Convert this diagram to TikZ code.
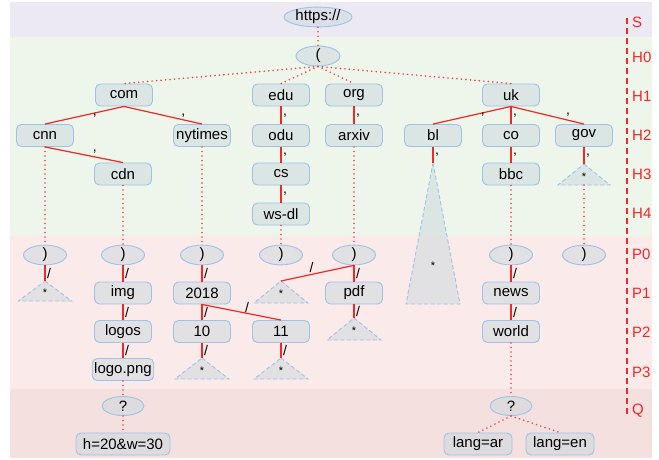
\documentclass[tikz,border=0pt]{standalone}
\usepackage{fontspec}
\setmainfont{Liberation Sans}
\usetikzlibrary{shapes,shapes.geometric,calc,positioning,backgrounds}

\definecolor{bandS}{HTML}{EDE9F3}
\definecolor{bandH}{HTML}{EEF5EA}
\definecolor{bandP}{HTML}{FBEAEA}
\definecolor{bandQ}{HTML}{F4E1DF}
\definecolor{segline}{HTML}{9DC3E6}
\definecolor{segfill}{HTML}{C9D7DE}
\definecolor{linkred}{HTML}{F02828}
\definecolor{dotred}{HTML}{F04848}

\tikzset{
  seg/.style={rectangle, rounded corners=5pt, draw=segline, line width=0.9pt, fill=segfill, fill opacity=0.5, text opacity=1, minimum width=57pt, minimum height=22pt, inner sep=2pt, font=\fontsize{15}{17}\selectfont},
  sep/.style={ellipse, draw=segline, line width=0.9pt, fill=segfill, fill opacity=0.5, text opacity=1, minimum width=43pt, minimum height=19pt, inner sep=0pt, font=\fontsize{15}{17}\selectfont},
  rest/.style={draw=segline, line width=0.9pt, dash pattern=on 4pt off 2.5pt, fill=segfill, fill opacity=0.5},
  star/.style={font=\fontsize{11}{12}\selectfont, inner sep=0pt},
  link/.style={draw=linkred, line width=1.2pt},
  hop/.style={draw=dotred, line width=1.8pt, line cap=round, dash pattern=on 0pt off 4.5pt},
  lab/.style={font=\fontsize{14}{16}\selectfont, inner sep=1.5pt},
  level/.style={text=linkred, font=\fontsize{15}{17}\selectfont, anchor=west, inner sep=0pt}
}

\begin{document}
\begin{tikzpicture}[x=1pt,y=-1pt]

    \useasboundingbox (0,0) rectangle (659,459);

    % Bands
    \begin{scope}[on background layer]
      \fill[bandS] (10,2) rectangle (652,37);
      \fill[bandH] (10,37) rectangle (652,236);
      \fill[bandP] (10,236) rectangle (652,389);
      \fill[bandQ] (10,389) rectangle (652,458);
    \end{scope}

    % Scheme and host
    \node[sep, minimum width=68pt] (https) at (318,17) {https://};
    \node[sep, minimum width=44pt, minimum height=20pt] (paren) at (318,56) {(};

    \node[seg] (com) at (124,95) {com};
    \node[seg] (edu) at (281,95) {edu};
    \node[seg] (org) at (354,95) {org};
    \node[seg] (uk) at (511,95) {uk};

    \node[seg] (cnn) at (45,135.5) {cnn};
    \node[seg] (nytimes) at (202,135.5) {nytimes};
    \node[seg] (odu) at (281,135.5) {odu};
    \node[seg] (arxiv) at (354,135.5) {arxiv};
    \node[seg] (bl) at (433,135.5) {bl};
    \node[seg] (co) at (511,135.5) {co};
    \node[seg] (gov) at (584,135.5) {gov};

    \node[seg] (cdn) at (123,174) {cdn};
    \node[seg] (cs) at (281,174) {cs};
    \node[seg] (bbc) at (511,174) {bbc};

    \node[seg] (wsdl) at (281,214) {ws-dl};

    % Path
    \foreach \i/\x in {1/45,2/123,3/202,4/281,5/354,6/511,7/584}
      \node[sep] (par\i) at (\x,255) {)};

    \node[seg] (img) at (123,293) {img};
    \node[seg] (y2018) at (202,293) {2018};
    \node[seg] (pdf) at (354,293) {pdf};
    \node[seg] (news) at (511,293) {news};

    \node[seg] (logos) at (123,331.5) {logos};
    \node[seg] (m10) at (202,331.5) {10};
    \node[seg] (m11) at (281,331.5) {11};
    \node[seg] (world) at (511,331.5) {world};

    \node[seg, minimum width=61pt] (logopng) at (123,369.5) {logo.png};

    % Query
    \node[sep, minimum width=42pt] (q1) at (123,406) {?};
    \node[sep, minimum width=42pt] (q2) at (511,406) {?};

    \node[seg, minimum width=94pt] (hw) at (123,444) {h=20\&w=30};
    \node[seg, minimum width=68pt] (langar) at (478,444) {lang=ar};
    \node[seg, minimum width=68pt] (langen) at (560,444) {lang=en};

    % Wildcard triangles
    \foreach \n/\x/\y/\h/\w/\f in {t1/45/281/20/26.5/0.6, t4/281/281/22/27/0.6, tpdf/354/318/22/27/0.6, t10/202/358/21/27/0.6, t11/281/358/21/27/0.6, tgov/584/164/21/26/0.6, tbl/433/163/141/27/0.73} {
      \coordinate (\n) at (\x,\y);
      \coordinate (\n-b) at (\x,\y+\h);
      \draw[rest] (\n) -- ++(\w,\h) -- ++({-2*\w},0) -- cycle;
      \node[star] (\n-s) at (\x,{\y+\f*\h}) {*};
    }

    % Dotted hops
    \draw[hop] (https) -- (paren);
    \foreach \t in {com,edu,org,uk}
      \draw[hop] (paren.south) -- (\t.north);
    \foreach \a/\b in {cnn/par1,cdn/par2,nytimes/par3,wsdl/par4,arxiv/par5,bbc/par6,tgov-b/par7,logopng/q1,q1/hw,world/q2}
      \draw[hop] (\a) -- (\b);
    \draw[hop] (q2.south) -- (langar.north);
    \draw[hop] (q2.south) -- (langen.north);

    % Host links
    \draw[link] (com.south) -- node[lab, below, inner sep=0pt, pos=0.37] {,} (cnn.north);
    \draw[link] (com.south) -- node[lab, above, inner sep=2pt, pos=0.76] {,} (nytimes.north);
    \draw[link] (cnn.south) -- node[lab, above, inner sep=3pt, pos=0.64] {,} (cdn.north);
    \draw[link] (edu) -- node[lab, right] {,} (odu);
    \draw[link] (odu) -- node[lab, right] {,} (cs);
    \draw[link] (cs) -- node[lab, right] {,} (wsdl);
    \draw[link] (org) -- node[lab, right] {,} (arxiv);
    \draw[link] (uk.south) -- node[lab, below, inner sep=0pt, pos=0.36] {,} (bl.north);
    \draw[link] (uk) -- node[lab, right] {,} (co);
    \draw[link] (uk.south) -- node[lab, above, inner sep=3pt, pos=0.78] {,} (gov.north);
    \draw[link] (bl) -- node[lab, right] {,} (tbl);
    \draw[link] (co) -- node[lab, right] {,} (bbc);
    \draw[link] (gov) -- node[lab, right] {,} (tgov);

    % Path links
    \draw[link] (par1) -- node[lab, right] {/} (t1);
    \draw[link] (par2) -- node[lab, right] {/} (img);
    \draw[link] (img) -- node[lab, right] {/} (logos);
    \draw[link] (logos) -- node[lab, right] {/} (logopng);
    \draw[link] (par3) -- node[lab, right] {/} (y2018);
    \draw[link] (y2018) -- node[lab, right] {/} (m10);
    \draw[link] (m10) -- node[lab, right] {/} (t10);
    \draw[link] (y2018.south) -- node[lab, above, inner sep=0.5pt, pos=0.57] {/} (m11.north);
    \draw[link] (m11) -- node[lab, right] {/} (t11);
    \draw[link] (par5.south) -- node[lab, above, inner sep=1pt, pos=0.58] {/} (t4);
    \draw[link] (par5) -- node[lab, right] {/} (pdf);
    \draw[link] (pdf) -- node[lab, right] {/} (tpdf);
    \draw[link] (par6) -- node[lab, right] {/} (news);
    \draw[link] (news) -- node[lab, right] {/} (world);

    % Levels
    \coordinate (axtop) at (627,18);
    \coordinate (axbot) at (627,415);
    \draw[linkred, line width=1.2pt, dash pattern=on 6pt off 4pt] (axtop) -- (axbot);
    \foreach \l/\y in {S/22,H0/57,H1/96,H2/135,H3/174,H4/213,P0/254,P1/293,P2/332,P3/372,Q/411}
      \node[level] (lv\l) at (632,\y) {\l};

\end{tikzpicture}
\end{document}
